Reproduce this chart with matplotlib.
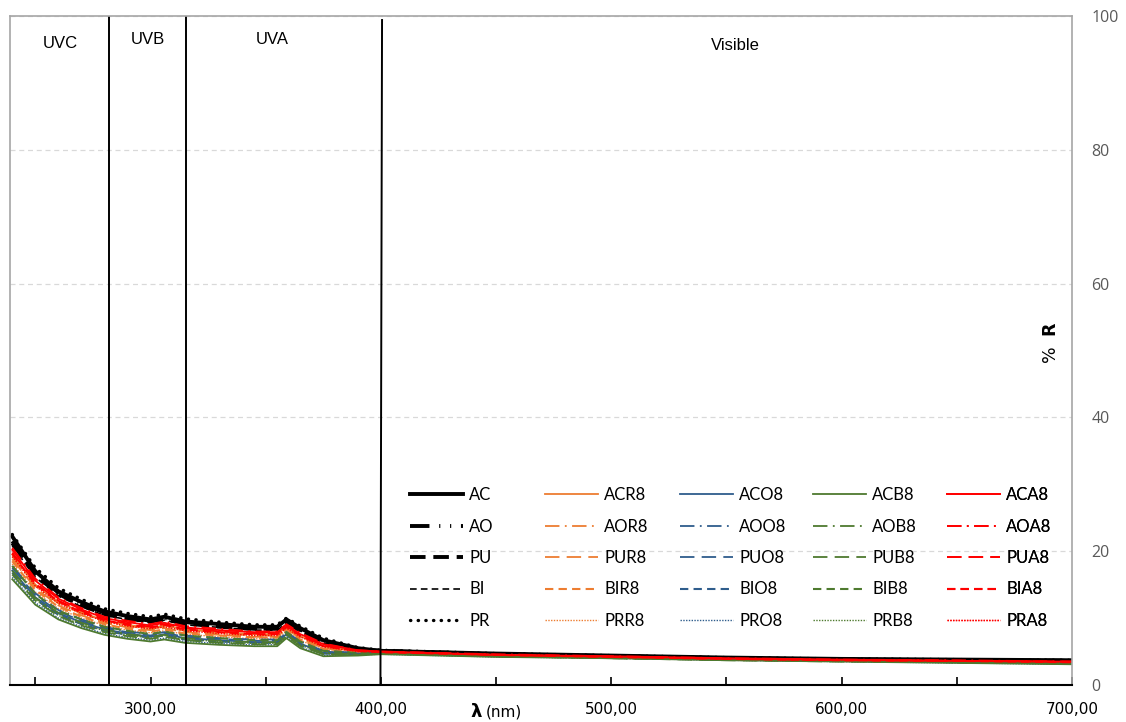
import matplotlib.pyplot as plt

wl = [240, 250, 260, 270, 280, 290, 300, 306, 315, 330, 345, 355, 359, 365, 375, 390, 400, 450, 500, 550, 600, 650, 700]

# % reflectance per sample
AC = [22.2, 17.0, 14.0, 12.4, 11.0, 10.3, 9.8, 10.2, 9.5, 9.1, 8.7, 8.7, 9.8, 8.5, 6.7, 5.5, 5.1, 4.7, 4.4, 4.1, 3.9, 3.8, 3.7]
AO = [21.5, 16.7, 13.8, 12.2, 10.8, 10.1, 9.6, 10.0, 9.4, 8.9, 8.5, 8.5, 9.6, 8.3, 6.6, 5.4, 5.1, 4.6, 4.3, 4.0, 3.8, 3.7, 3.6]
PU = [21.2, 16.4, 13.6, 11.9, 10.6, 9.9, 9.5, 9.8, 9.2, 8.7, 8.4, 8.4, 9.4, 8.1, 6.5, 5.4, 5.1, 4.6, 4.3, 4.0, 3.8, 3.7, 3.6]
BI = [20.8, 16.1, 13.3, 11.7, 10.4, 9.8, 9.3, 9.7, 9.0, 8.6, 8.2, 8.2, 9.2, 8.0, 6.3, 5.3, 5.1, 4.6, 4.3, 4.0, 3.8, 3.7, 3.5]
PR = [22.5, 17.5, 14.5, 12.8, 11.4, 10.7, 10.2, 10.6, 9.9, 9.4, 9.0, 9.0, 10.0, 8.8, 7.0, 5.6, 5.2, 4.7, 4.4, 4.1, 3.9, 3.8, 3.7]

ACR8 = [19.5, 15.0, 12.4, 10.9, 9.6, 9.0, 8.5, 8.9, 8.3, 7.9, 7.6, 7.6, 8.7, 7.3, 5.8, 5.1, 4.9, 4.5, 4.2, 3.9, 3.7, 3.6, 3.4]
AOR8 = [19.2, 14.8, 12.2, 10.7, 9.5, 8.8, 8.4, 8.7, 8.1, 7.7, 7.4, 7.4, 8.5, 7.2, 5.7, 5.0, 4.9, 4.5, 4.2, 3.9, 3.7, 3.6, 3.4]
PUR8 = [18.8, 14.5, 11.9, 10.4, 9.3, 8.6, 8.2, 8.5, 7.9, 7.5, 7.2, 7.2, 8.4, 7.0, 5.5, 4.9, 4.9, 4.4, 4.2, 3.9, 3.7, 3.5, 3.4]
BIR8 = [18.5, 14.2, 11.7, 10.2, 9.1, 8.4, 8.0, 8.3, 7.7, 7.4, 7.1, 7.1, 8.2, 6.8, 5.4, 4.9, 4.8, 4.4, 4.2, 3.9, 3.7, 3.5, 3.3]
PRR8 = [18.1, 13.9, 11.4, 10.0, 8.9, 8.2, 7.8, 8.1, 7.6, 7.2, 6.9, 6.9, 8.1, 6.7, 5.2, 4.8, 4.8, 4.4, 4.1, 3.8, 3.6, 3.5, 3.3]

ACO8 = [17.1, 13.1, 10.7, 9.4, 8.3, 7.7, 7.2, 7.6, 7.0, 6.7, 6.4, 6.4, 7.6, 6.2, 4.8, 4.6, 4.7, 4.3, 4.1, 3.8, 3.6, 3.4, 3.2]
AOO8 = [17.8, 13.7, 11.2, 9.8, 8.7, 8.0, 7.6, 7.9, 7.4, 7.0, 6.8, 6.8, 7.9, 6.5, 5.1, 4.8, 4.8, 4.4, 4.1, 3.8, 3.6, 3.5, 3.3]
PUO8 = [17.5, 13.4, 11.0, 9.6, 8.5, 7.9, 7.4, 7.8, 7.2, 6.9, 6.6, 6.6, 7.8, 6.3, 5.0, 4.7, 4.8, 4.3, 4.1, 3.8, 3.6, 3.4, 3.3]
BIO8 = [16.8, 12.8, 10.5, 9.1, 8.1, 7.5, 7.1, 7.4, 6.8, 6.5, 6.3, 6.3, 7.5, 6.0, 4.7, 4.6, 4.7, 4.3, 4.1, 3.8, 3.6, 3.4, 3.2]
PRO8 = [16.1, 12.3, 10.0, 8.7, 7.7, 7.1, 6.7, 7.0, 6.5, 6.2, 6.0, 6.0, 7.2, 5.7, 4.4, 4.5, 4.6, 4.2, 4.0, 3.7, 3.5, 3.3, 3.1]

ACB8 = [15.8, 12.0, 9.8, 8.5, 7.5, 6.9, 6.5, 6.8, 6.3, 6.0, 5.8, 5.8, 7.0, 5.5, 4.3, 4.4, 4.6, 4.2, 4.0, 3.7, 3.5, 3.3, 3.1]
AOB8 = [17.1, 13.0, 10.8, 9.3, 8.3, 7.6, 7.2, 7.5, 7.0, 6.6, 6.4, 6.4, 7.6, 6.1, 4.8, 4.6, 4.7, 4.3, 4.0, 3.8, 3.6, 3.4, 3.2]
PUB8 = [16.5, 12.6, 10.3, 8.9, 7.9, 7.3, 6.9, 7.2, 6.7, 6.3, 6.1, 6.1, 7.3, 5.8, 4.6, 4.5, 4.7, 4.3, 4.0, 3.7, 3.5, 3.4, 3.2]
BIB8 = [17.8, 13.6, 11.1, 9.8, 8.7, 8.1, 7.6, 8.0, 7.4, 7.0, 6.7, 6.7, 7.9, 6.5, 5.1, 4.8, 4.8, 4.4, 4.1, 3.8, 3.6, 3.5, 3.3]
PRB8 = [16.7, 12.8, 10.4, 9.1, 8.1, 7.5, 7.0, 7.4, 6.8, 6.5, 6.2, 6.2, 7.4, 6.0, 4.7, 4.6, 4.7, 4.3, 4.1, 3.8, 3.6, 3.4, 3.2]

ACA8 = [20.2, 15.6, 12.9, 11.3, 10.0, 9.4, 8.9, 9.3, 8.6, 8.2, 7.9, 7.9, 9.0, 7.6, 6.1, 5.2, 5.0, 4.5, 4.3, 4.0, 3.8, 3.6, 3.5]
AOA8 = [20.5, 15.9, 13.1, 11.5, 10.2, 9.6, 9.1, 9.5, 8.8, 8.4, 8.0, 8.0, 9.1, 7.8, 6.2, 5.2, 5.0, 4.6, 4.3, 4.0, 3.8, 3.7, 3.5]
PUA8 = [19.8, 15.3, 12.6, 11.1, 9.8, 9.2, 8.7, 9.1, 8.5, 8.0, 7.7, 7.7, 8.8, 7.5, 5.9, 5.1, 5.0, 4.5, 4.2, 3.9, 3.7, 3.6, 3.5]
BIA8 = [19.6, 15.1, 12.5, 10.9, 9.7, 9.0, 8.6, 9.0, 8.3, 7.9, 7.6, 7.6, 8.7, 7.4, 5.8, 5.1, 4.9, 4.5, 4.2, 3.9, 3.7, 3.6, 3.4]
PRA8 = [19.2, 14.8, 12.2, 10.7, 9.5, 8.8, 8.4, 8.7, 8.1, 7.7, 7.4, 7.4, 8.5, 7.2, 5.7, 5.0, 4.9, 4.5, 4.2, 3.9, 3.7, 3.6, 3.4]

groups = [
    (["AC", "AO", "PU", "BI", "PR"], [AC, AO, PU, BI, PR], "black"),
    (["ACR8", "AOR8", "PUR8", "BIR8", "PRR8"], [ACR8, AOR8, PUR8, BIR8, PRR8], "#ED7D31"),
    (["ACO8", "AOO8", "PUO8", "BIO8", "PRO8"], [ACO8, AOO8, PUO8, BIO8, PRO8], "#2F5D8C"),
    (["ACB8", "AOB8", "PUB8", "BIB8", "PRB8"], [ACB8, AOB8, PUB8, BIB8, PRB8], "#4E7A2F"),
    (["ACA8", "AOA8", "PUA8", "BIA8", "PRA8"], [ACA8, AOA8, PUA8, BIA8, PRA8], "#FF0000"),
]

# line styles per row (black group is thicker)
black_styles = [
    dict(lw=2.8, ls="-"),
    dict(lw=2.8, ls=(0, (5, 2.5, 0.3, 2.5, 0.3, 2.5))),
    dict(lw=2.8, ls=(0, (4, 2))),
    dict(lw=1.2, ls=(0, (4, 2.5))),
    dict(lw=2.4, ls=(0, (0.1, 2.2)), dash_capstyle="round"),
]
color_styles = [
    dict(lw=1.3, ls="-"),
    dict(lw=1.3, ls=(0, (8, 3, 1, 3))),
    dict(lw=1.3, ls=(0, (8, 4))),
    dict(lw=1.5, ls=(0, (4, 2.5))),
    dict(lw=1.0, ls=(0, (1, 1))),
]

fig = plt.figure(figsize=(11.26, 7.22), dpi=100)
ax = fig.add_axes([10 / 1126, 37 / 722, 1062 / 1126, 669 / 722])

legend_handles = []
for gi, (names, series, color) in enumerate(groups):
    styles = black_styles if gi == 0 else color_styles
    hs = []
    for name, vals, st in zip(names, series, styles):
        (h,) = ax.plot(wl, vals, color=color, label=name, **st)
        hs.append(h)
    legend_handles.append(hs)

ax.set_xlim(239, 700)
ax.set_ylim(0, 100)

# grid
ax.set_yticks([0, 20, 40, 60, 80, 100])
ax.yaxis.grid(True, color="#D9D9D9", ls=(0, (4, 3)), lw=0.9)
ax.set_axisbelow(True)
ax.yaxis.tick_right()
ax.tick_params(axis="y", length=0, pad=14, labelsize=11.5, labelcolor="#595959")
for t in ax.get_yticklabels():
    t.set_fontfamily("Open Sans")

ax.set_xticks([300, 400, 500, 600, 700])
ax.set_xticks([250, 350, 450, 550, 650], minor=True)
ax.set_xticklabels(["300,00", "400,00", "500,00", "600,00", "700,00"])
ax.tick_params(axis="x", which="both", direction="in", length=6, width=1.2, pad=12, labelsize=11)
for t in ax.get_xticklabels():
    t.set_fontfamily(["Liberation Sans Narrow", "DejaVu Sans"])

for s in ["left", "top", "right"]:
    ax.spines[s].set_color("#A6A6A6")
    ax.spines[s].set_linewidth(1.2)
ax.spines["bottom"].set_color("black")
ax.spines["bottom"].set_linewidth(1.5)

# region separators
for x in [282, 315.5]:
    ax.axvline(x, color="black", lw=1.4)
ax.plot([400.5, 399.8], [99.4, 0], color="black", lw=1.4)

for txt, x, y in [("UVC", 60, 43), ("UVB", 148, 40), ("UVA", 272, 40), ("Visible", 735, 45)]:
    fig.text(x / 1126, 1 - y / 722, txt, ha="center", va="center", fontsize=12,
             family="Liberation Sans")

# axis titles
fig.text(1051 / 1126, 1 - 343 / 722, r"%  $\mathbf{R}$", rotation=90, ha="center", va="center",
         fontsize=12.5)
fig.text(482 / 1126, 1 - 712 / 722, "λ", ha="right", va="center", fontsize=13, fontweight="bold")
fig.text(486 / 1126, 1 - 712 / 722, "(nm)", ha="left", va="center", fontsize=11,
         family=["Liberation Sans Narrow", "DejaVu Sans"])

# legend: one block per colour group
col_x = [410, 545, 680, 813, 947]
for hs, x in zip(legend_handles, col_x):
    leg = ax.legend(handles=hs, loc="upper left", bbox_to_anchor=(x / 1126, 1 - 487 / 722),
                    bbox_transform=fig.transFigure, frameon=False,
                    prop={"family": "Lato", "size": 12}, handlelength=3.2, handletextpad=0.35,
                    labelspacing=0.93, borderpad=0, borderaxespad=0)
    ax.add_artist(leg)

fig.savefig("out.png", dpi=100)
